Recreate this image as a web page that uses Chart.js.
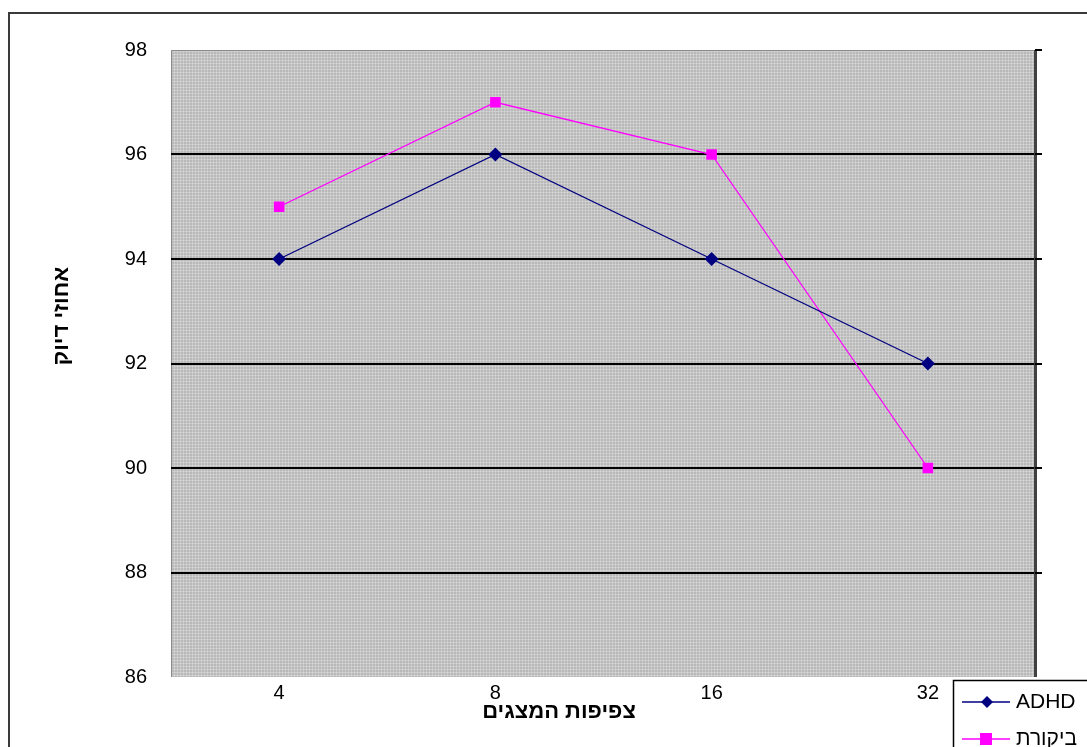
<!DOCTYPE html>
<html>
<head>
<meta charset="utf-8">
<script src="https://cdn.jsdelivr.net/npm/chart.js@4/dist/chart.umd.min.js"></script>
<style>
  html, body { margin: 0; padding: 0; background: #fff; }
  canvas { display: block; }
</style>
</head>
<body>
<canvas id="chart" width="1087" height="747"></canvas>
<script>
// Display density vs. accuracy
const categories = ['4', '8', '16', '32'];
const adhdValues = [94, 96, 94, 92];
const controlValues = [95, 97, 96, 90];
const yTicks = [86, 88, 90, 92, 94, 96, 98];
const seriesNames = ['ADHD', 'ביקורת'];
const xTitle = 'צפיפות המצגים';
const yTitle = 'אחוזי דיוק';

const FONT = '"Liberation Sans", "DejaVu Sans", Arial, sans-serif';
const NAVY = '#000080';
const PINK = '#ff00ff';

// Dithered gray fill for the plot area
function makePattern(ctx) {
  const c = document.createElement('canvas');
  c.width = 3; c.height = 3;
  const p = c.getContext('2d');
  p.fillStyle = '#b8b8b8'; p.fillRect(0, 0, 3, 3);
  p.fillStyle = '#cbcbcb'; p.fillRect(0, 0, 3, 1); p.fillRect(0, 0, 1, 3);
  p.fillStyle = '#d6d6d6'; p.fillRect(0, 0, 1, 1);
  return ctx.createPattern(c, 'repeat');
}

const framePlugin = {
  id: 'frame',
  beforeDraw(chart) {
    const { ctx, chartArea: a } = chart;
    ctx.save();
    ctx.fillStyle = '#fff';
    ctx.fillRect(0, 0, chart.width, chart.height);
    // outer chart border
    ctx.strokeStyle = '#3a3a3a';
    ctx.lineWidth = 2;
    ctx.strokeRect(9, 13, 1200, 1000);
    // plot background
    ctx.fillStyle = makePattern(ctx);
    ctx.fillRect(a.left, a.top, a.right - a.left, a.bottom - a.top);
    // thin gray left/top edges
    ctx.strokeStyle = '#8a8a8a';
    ctx.lineWidth = 1;
    ctx.beginPath();
    ctx.moveTo(a.left + 0.5, a.bottom);
    ctx.lineTo(a.left + 0.5, a.top + 0.5);
    ctx.lineTo(a.right, a.top + 0.5);
    ctx.stroke();
    ctx.restore();
  },
  afterDatasetsDraw(chart) {
    const { ctx, chartArea: a, scales } = chart;
    ctx.save();
    // right-hand value axis line with outward ticks
    ctx.strokeStyle = '#404040';
    ctx.lineWidth = 3;
    ctx.beginPath();
    ctx.moveTo(a.right - 0.5, a.top);
    ctx.lineTo(a.right - 0.5, a.bottom);
    ctx.stroke();
    ctx.strokeStyle = '#000';
    ctx.lineWidth = 2;
    yTicks.forEach(v => {
      if (v === yTicks[0]) return;
      const y = Math.round(scales.y.getPixelForValue(v));
      ctx.beginPath();
      ctx.moveTo(a.right - 1, y);
      ctx.lineTo(a.right + 6, y);
      ctx.stroke();
    });

    // axis titles
    ctx.fillStyle = '#000';
    ctx.font = 'bold 22px ' + FONT;
    ctx.textAlign = 'center';
    ctx.textBaseline = 'middle';
    ctx.fillText(xTitle, 559, 712);
    ctx.save();
    ctx.translate(62, 316);
    ctx.rotate(-Math.PI / 2);
    ctx.fillText(yTitle, 0, 0);
    ctx.restore();

    // legend box
    const lx = 953, ly = 680;
    ctx.fillStyle = '#fff';
    ctx.fillRect(lx, ly, 200, 100);
    ctx.strokeStyle = '#000';
    ctx.lineWidth = 1.5;
    ctx.strokeRect(lx + 0.5, ly + 0.5, 200, 100);
    const rows = [
      { name: chart.data.datasets[0].label, color: NAVY, y: 702, shape: 'diamond' },
      { name: chart.data.datasets[1].label, color: PINK, y: 739, shape: 'square' }
    ];
    rows.forEach(r => {
      ctx.strokeStyle = r.color;
      ctx.lineWidth = 1.5;
      ctx.beginPath();
      ctx.moveTo(962, r.y);
      ctx.lineTo(1010, r.y);
      ctx.stroke();
      ctx.fillStyle = r.color;
      ctx.beginPath();
      if (r.shape === 'diamond') {
        ctx.moveTo(987, r.y - 6);
        ctx.lineTo(993, r.y);
        ctx.lineTo(987, r.y + 6);
        ctx.lineTo(981, r.y);
        ctx.closePath();
      } else {
        ctx.rect(980, r.y - 6, 12, 12);
      }
      ctx.fill();
      ctx.fillStyle = '#000';
      ctx.font = '21px ' + FONT;
      ctx.textAlign = 'left';
      ctx.textBaseline = 'middle';
      ctx.fillText(r.name, 1016, r.y);
    });
    ctx.restore();
  }
};

new Chart(document.getElementById('chart'), {
  type: 'line',
  data: {
    labels: categories,
    datasets: [
      {
        label: seriesNames[0],
        data: adhdValues,
        borderColor: NAVY,
        backgroundColor: NAVY,
        borderWidth: 1.3,
        pointStyle: 'rectRot',
        pointRadius: 7,
        pointBorderWidth: 0,
        tension: 0
      },
      {
        label: seriesNames[1],
        data: controlValues,
        borderColor: PINK,
        backgroundColor: PINK,
        borderWidth: 1.3,
        pointStyle: 'rect',
        pointRadius: 7.5,
        pointBorderWidth: 0,
        tension: 0
      }
    ]
  },
  options: {
    responsive: false,
    animation: false,
    layout: { padding: { top: 50, right: 51, left: 0, bottom: 0 } },
    plugins: {
      legend: { display: false },
      tooltip: { enabled: false }
    },
    scales: {
      x: {
        offset: true,
        grid: { display: false, drawTicks: false },
        border: { display: false },
        ticks: { color: '#000', font: { family: FONT, size: 20 }, padding: 4 },
        afterFit(s) { s.height = 70; }
      },
      y: {
        min: yTicks[0],
        max: yTicks[yTicks.length - 1],
        afterBuildTicks(s) { s.ticks = yTicks.map(v => ({ value: v })); },
        grid: {
          drawTicks: false,
          lineWidth: 2,
          color: c => (c.tick && (c.tick.value === yTicks[0] || c.tick.value === yTicks[yTicks.length - 1])) ? 'rgba(0,0,0,0)' : '#000'
        },
        border: { display: false },
        ticks: { color: '#000', font: { family: FONT, size: 20 }, padding: 24 },
        afterFit(s) { s.width = 171; }
      }
    }
  },
  plugins: [framePlugin]
});
</script>
</body>
</html>
